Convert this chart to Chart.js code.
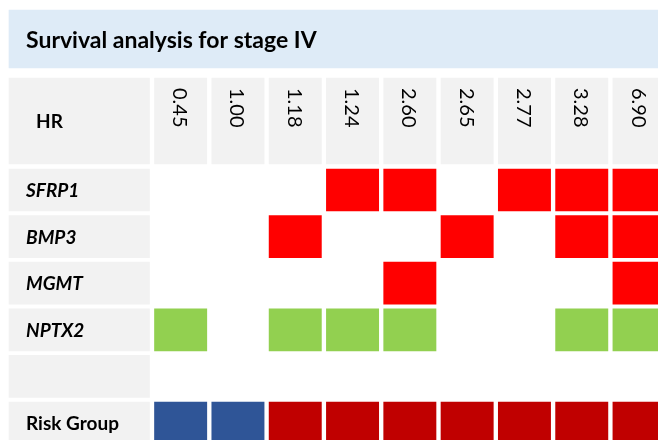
<!DOCTYPE html>
<html>
<head>
<meta charset="utf-8">
<script src="https://cdn.jsdelivr.net/npm/chart.js@4"></script>
<style>
  html, body { margin: 0; padding: 0; background: #fff; }
  #wrap { width: 658px; height: 440px; }
</style>
</head>
<body>
<div id="wrap"><canvas id="heat"></canvas></div>
<script>
// table content
const titleText = 'Survival analysis for stage IV'
const hrLabels = ['0.45', '1.00', '1.18', '1.24', '2.60', '2.65', '2.77', '3.28', '6.90']
const rowLabels = ['SFRP1', 'BMP3', 'MGMT', 'NPTX2', '', 'Risk Group']
const sfrp1 = [0, 0, 0, 1, 1, 0, 1, 1, 1]
const bmp3 = [0, 0, 1, 0, 0, 1, 0, 1, 1]
const mgmt = [0, 0, 0, 0, 1, 0, 0, 0, 1]
const nptx2 = [1, 0, 1, 1, 1, 0, 0, 1, 1]
const riskGroup = ['low', 'low', 'high', 'high', 'high', 'high', 'high', 'high', 'high']

// layout (pixels)
const W = 658, H = 440
const COL_W = 57.3
const ROW_H = 46.6
const GRID_LEFT = 152
const ROW0_Y = 190
const LABEL_LEFT = 8
const HEADER_Y = 121, HEADER_H = 88
const TITLE_Y = 39, TITLE_H = 60
const CELL_H = 44
const GAP = 1.5

const colors = {
    band: '#deebf7',
    gray: '#f2f2f2',
    methylated: '#ff0000',
    protective: '#92d050',
    low: '#2f5597',
    high: '#c00000'
}

const xv = px => (px - GRID_LEFT) / COL_W
const yv = px => (px - ROW0_Y) / ROW_H
const cell = i => [i + GAP / COL_W, i + 1 - GAP / COL_W]
const labelCell = [xv(LABEL_LEFT), -GAP / COL_W]

const geneCells = (values, row) => values
    .map((v, i) => v ? { x: cell(i), y: row } : null)
    .filter(p => p)

const barSet = (data, color, thickness) => ({
    data: data,
    backgroundColor: color,
    borderColor: 'rgba(255,255,255,0.45)',
    borderWidth: 1,
    borderSkipped: false,
    barThickness: thickness,
    grouped: false
})

const tableText = {
    id: 'tableText',
    afterDatasetsDraw: (chart) => {
        const {ctx, scales: {x, y}} = chart
        const textLeft = x.getPixelForValue(labelCell[0]) + 18
        ctx.save()
        ctx.fillStyle = '#000'
        ctx.textBaseline = 'middle'
        ctx.textAlign = 'left'

        ctx.font = 'bold 23px Lato'
        ctx.fillText(titleText, textLeft, y.getPixelForValue(yv(TITLE_Y)) + 2)

        ctx.font = 'bold 19px Lato'
        ctx.fillText('HR', textLeft + 10, y.getPixelForValue(yv(HEADER_Y)) + 1)

        rowLabels.forEach((label, r) => {
            ctx.font = (label === 'Risk Group' ? '' : 'italic ') + 'bold 19px Lato'
            ctx.fillText(label, textLeft, y.getPixelForValue(r) + 1)
        })

        ctx.font = '20px Lato'
        const top = y.getPixelForValue(yv(HEADER_Y - HEADER_H / 2)) + 11
        hrLabels.forEach((label, i) => {
            ctx.save()
            ctx.translate(x.getPixelForValue(i + 0.5), top)
            ctx.rotate(Math.PI / 2)
            ctx.fillText(label, 0, 1)
            ctx.restore()
        })
        ctx.restore()
    }
}

new Chart(document.getElementById('heat'), {
    type: 'bar',
    data: {
        datasets: [
            barSet([{ x: [xv(LABEL_LEFT), xv(W) + 1], y: yv(TITLE_Y) }], colors.band, TITLE_H),
            barSet([{ x: labelCell, y: yv(HEADER_Y) }].concat(hrLabels.map((l, i) => ({ x: cell(i), y: yv(HEADER_Y) }))), colors.gray, HEADER_H),
            barSet(rowLabels.map((l, r) => ({ x: labelCell, y: r })), colors.gray, CELL_H),
            barSet(geneCells(sfrp1, 0), colors.methylated, CELL_H),
            barSet(geneCells(bmp3, 1), colors.methylated, CELL_H),
            barSet(geneCells(mgmt, 2), colors.methylated, CELL_H),
            barSet(geneCells(nptx2, 3), colors.protective, CELL_H),
            Object.assign(barSet(riskGroup.map((g, i) => ({ x: cell(i), y: 5 })), riskGroup.map(g => colors[g]), CELL_H),
                { borderColor: 'rgba(255,255,255,0.35)' })
        ]
    },
    options: {
        indexAxis: 'y',
        responsive: true,
        maintainAspectRatio: false,
        animation: false,
        layout: { padding: 0 },
        plugins: {
            legend: { display: false },
            tooltip: { enabled: false },
            title: { display: false }
        },
        scales: {
            x: {
                type: 'linear',
                display: false,
                offset: false,
                min: xv(0),
                max: xv(W)
            },
            y: {
                type: 'linear',
                display: false,
                offset: false,
                reverse: true,
                min: yv(0),
                max: yv(H)
            }
        }
    },
    plugins: [tableText]
})
</script>
</body>
</html>
